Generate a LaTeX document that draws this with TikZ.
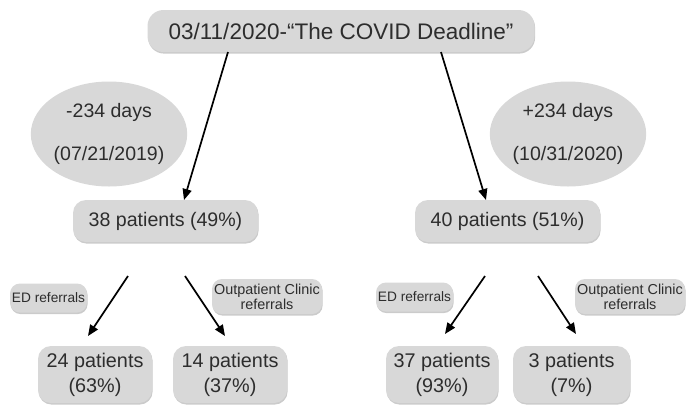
\documentclass[tikz,border=0pt]{standalone}
\usepackage{fontspec}
\setmainfont{Liberation Sans}
\usetikzlibrary{arrows.meta,shadows,shapes.geometric}
\definecolor{boxgray}{RGB}{216,216,216}
\definecolor{txtgray}{RGB}{45,45,45}
\begin{document}
\begin{tikzpicture}[x=1pt,y=-1pt,
  box/.style={rounded corners=13pt, fill=boxgray, text=txtgray, inner sep=0pt, align=center,
    drop shadow={shadow xshift=0.6pt, shadow yshift=-1.6pt, fill=black!45, opacity=0.45}},
  smallbox/.style={box, rounded corners=10pt},
  oval/.style={ellipse, fill=boxgray, text=txtgray, inner sep=0pt, align=center},
  arr/.style={-{Triangle[length=11pt,width=9pt]}, line width=1.7pt, black}]
\useasboundingbox (0,0) rectangle (686,408);
% top
\node[box, rounded corners=16pt, minimum width=387pt, minimum height=42pt, font=\fontsize{22.5}{26}\selectfont] (top) at (341,31) {03/11/2020-“The COVID Deadline”};
% ellipses
\node[oval, minimum width=138pt, minimum height=105pt, font=\fontsize{19.5}{43}\selectfont] (ell) at (109,134) {-234 days\\(07/21/2019)};
\node[oval, minimum width=136pt, minimum height=105pt, font=\fontsize{19.5}{43}\selectfont] (elr) at (568,134) {+234 days\\(10/31/2020)};
% middle
\node[box, minimum width=185pt, minimum height=42pt, font=\fontsize{19.6}{24}\selectfont] (ml) at (165.5,221) {38 patients (49\%)};
\node[box, minimum width=185pt, minimum height=42pt, font=\fontsize{19.6}{24}\selectfont] (mr) at (507.5,221) {40 patients (51\%)};
% small labels
\node[smallbox, minimum width=77pt, minimum height=29pt, font=\fontsize{13.7}{15}\selectfont] (edl) at (48.5,298) {ED referrals};
\node[smallbox, minimum width=110pt, minimum height=35pt, font=\fontsize{14.4}{15}\selectfont] (opl) at (267,296.5) {Outpatient Clinic\\referrals};
\node[smallbox, minimum width=77pt, minimum height=29pt, font=\fontsize{13.7}{15}\selectfont] (edr) at (414.5,297) {ED referrals};
\node[smallbox, minimum width=110pt, minimum height=35pt, font=\fontsize{14.4}{15}\selectfont] (opr) at (630,296.5) {Outpatient Clinic\\referrals};
% bottom
\node[box, minimum width=114pt, minimum height=57pt, font=\fontsize{19.8}{25}\selectfont] (b1) at (95,374.5) {24 patients\\(63\%)};
\node[box, minimum width=114pt, minimum height=57pt, font=\fontsize{19.8}{25}\selectfont] (b2) at (230,374.5) {14 patients\\(37\%)};
\node[box, minimum width=112pt, minimum height=57pt, font=\fontsize{19.8}{25}\selectfont] (b3) at (442,374.5) {37 patients\\(93\%)};
\node[box, minimum width=117pt, minimum height=57pt, font=\fontsize{19.8}{25}\selectfont] (b4) at (571.5,374.5) {3 patients\\(7\%)};
% arrow endpoints
\coordinate (t1) at (228,52);
\coordinate (t2) at (441,52);
\coordinate (m1) at (184,200);
\coordinate (m2) at (486,200);
\coordinate (l1s) at (128,276); \coordinate (l1e) at (88,336);
\coordinate (l2s) at (185,276); \coordinate (l2e) at (225,336);
\coordinate (r1s) at (485,276); \coordinate (r1e) at (445,334);
\coordinate (r2s) at (538,276); \coordinate (r2e) at (576,334);
\draw[arr] (t1) -- (m1);
\draw[arr] (t2) -- (m2);
\draw[arr] (l1s) -- (l1e);
\draw[arr] (l2s) -- (l2e);
\draw[arr] (r1s) -- (r1e);
\draw[arr] (r2s) -- (r2e);
\end{tikzpicture}
\end{document}
